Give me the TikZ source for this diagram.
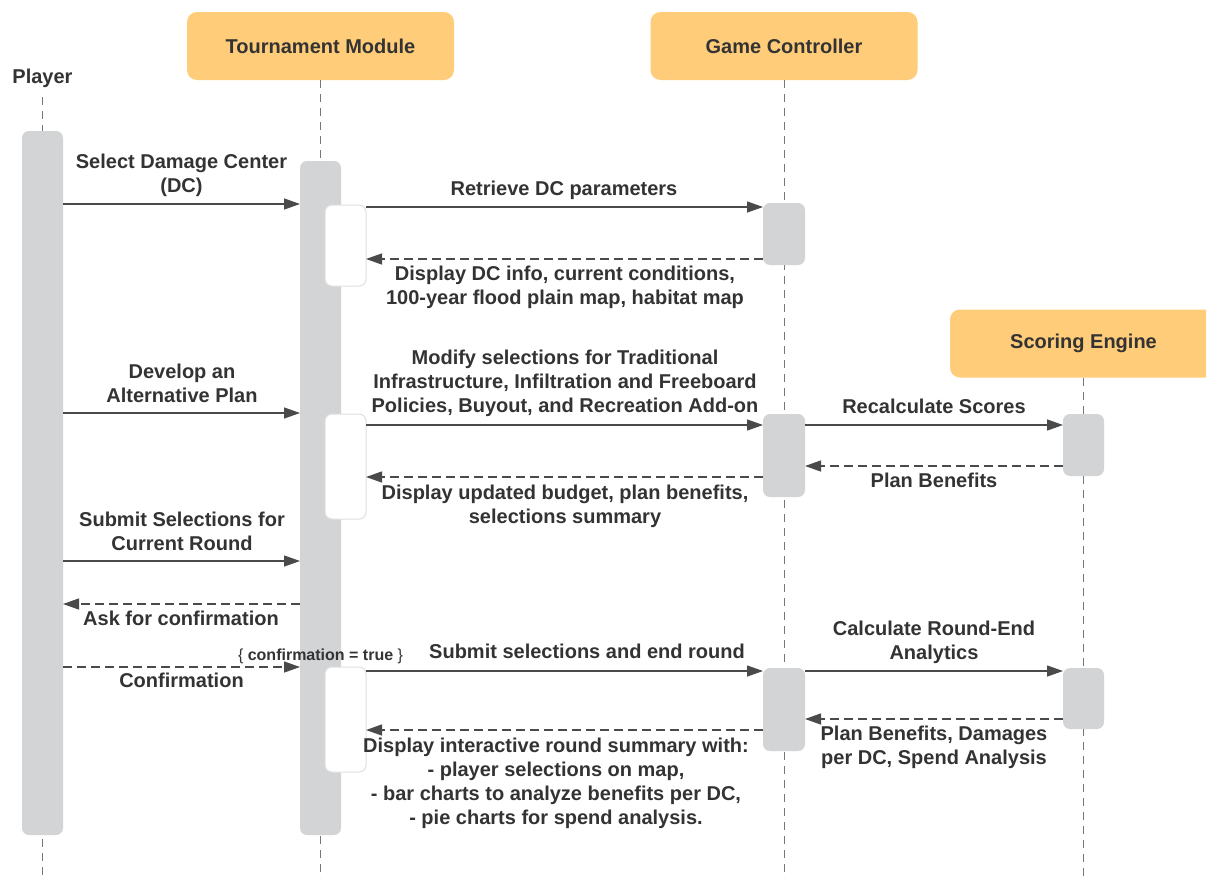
\documentclass[tikz,border=0pt]{standalone}
\usepackage{fontspec}
\setmainfont{Liberation Sans}
\usetikzlibrary{arrows.meta}
\definecolor{hdr}{HTML}{FFCC79}
\definecolor{barc}{HTML}{D3D4D6}
\definecolor{txt}{HTML}{333333}
\definecolor{ln}{HTML}{4A4A4A}
\begin{document}
\begin{tikzpicture}[x=1pt,y=-1pt,
  every node/.style={inner sep=0pt, outer sep=0pt},
  hdrbox/.style={fill=hdr, rounded corners=10pt, minimum width=267pt, minimum height=68pt,
    font=\bfseries\fontsize{20}{24}\selectfont, text=txt},
  actbar/.style={fill=barc, rounded corners=7pt, minimum width=41pt},
  subbox/.style={fill=white, draw=black!12, line width=1pt, rounded corners=7pt, minimum width=41pt},
  life/.style={draw=ln!75, line width=1pt, dash pattern=on 8pt off 6pt},
  msg/.style={draw=ln, line width=1.3pt, -{Triangle[length=16pt,width=11pt]}},
  ret/.style={msg, dash pattern=on 9pt off 5pt},
  lbl/.style={font=\bfseries\fontsize{20}{24}\selectfont, text=txt, align=center, anchor=base},
  guard/.style={font=\fontsize{16}{19}\selectfont, text=txt, anchor=base},
]
\clip (0,0) rectangle (1206,878);
\fill[white] (0,0) rectangle (1206,878);

% headers
\node[lbl] (pl) at (42.5,83) {Player};
\node[hdrbox] (th) at (320.5,46) {Tournament Module};
\node[hdrbox] (gh) at (784,46) {Game Controller};
\node[hdrbox] (sh) at (1083.5,343.5) {Scoring Engine};

% lifelines
\coordinate (ptop) at (42.5,97);
\draw[life] (ptop) -- (ptop |- 0,878);
\draw[life] (th.south) -- (th.south |- 0,878);
\draw[life] (gh.south) -- (gh.south |- 0,878);
\draw[life] (sh.south) -- (sh.south |- 0,878);

% activation bars
\node[actbar, minimum height=704pt] (pbar) at (42.5,483) {};
\node[actbar, minimum height=674pt] (tbar) at (320.5,498) {};
\node[subbox, minimum height=81pt] (w1) at (345.5,245.5) {};
\node[subbox, minimum height=105pt] (w2) at (345.5,466.5) {};
\node[subbox, minimum height=105pt] (w3) at (345.5,719.5) {};
\node[actbar, minimum width=42pt, minimum height=62pt] (g1) at (784,234) {};
\node[actbar, minimum width=42pt, minimum height=83pt] (g2) at (784,455.5) {};
\node[actbar, minimum width=42pt, minimum height=83pt] (g3) at (784,709.5) {};
\node[actbar, minimum height=62pt] (s1) at (1083.5,445) {};
\node[actbar, minimum height=61pt] (s2) at (1083.5,698.5) {};

% messages
\draw[msg] (pbar.east |- 0,204) -- (tbar.west |- 0,204);
\draw[msg] (w1.east |- 0,207) -- (g1.west |- 0,207);
\draw[ret] (g1.west |- 0,259) -- (w1.east |- 0,259);
\draw[msg] (pbar.east |- 0,413) -- (tbar.west |- 0,413);
\draw[msg] (w2.east |- 0,425) -- (g2.west |- 0,425);
\draw[msg] (g2.east |- 0,425) -- (s1.west |- 0,425);
\draw[ret] (s1.west |- 0,466) -- (g2.east |- 0,466);
\draw[ret] (g2.west |- 0,477) -- (w2.east |- 0,477);
\draw[msg] (pbar.east |- 0,561) -- (tbar.west |- 0,561);
\draw[ret] (tbar.west |- 0,604) -- (pbar.east |- 0,604);
\draw[ret] (pbar.east |- 0,667) -- (tbar.west |- 0,667);
\draw[msg] (w3.east |- 0,671) -- (g3.west |- 0,671);
\draw[msg] (g3.east |- 0,671) -- (s2.west |- 0,671);
\draw[ret] (s2.west |- 0,719) -- (g3.east |- 0,719);
\draw[ret] (g3.west |- 0,730) -- (w3.east |- 0,730);

% labels (anchor = baseline of the last line)
\node[lbl] (l1) at (181.5,192) {Select Damage Center\\(DC)};
\node[lbl] (l2) at (564,195) {Retrieve DC parameters};
\node[lbl] (l3) at (565,304) {Display DC info, current conditions,\\100-year flood plain map, habitat map};
\node[lbl] (l4) at (182,402) {Develop an\\Alternative Plan};
\node[lbl] (l5) at (565,412) {Modify selections for Traditional\\Infrastructure, Infiltration and Freeboard\\Policies, Buyout, and Recreation Add-on};
\node[lbl] (l6) at (934,413) {Recalculate Scores};
\node[lbl] (l7) at (934,487) {Plan Benefits};
\node[lbl] (l8) at (565,523) {Display updated budget, plan benefits,\\selections summary};
\node[lbl] (l9) at (182,550) {Submit Selections for\\Current Round};
\node[lbl] (l10) at (181,625) {Ask for confirmation};
\node[lbl] (l11) at (181.5,687) {Confirmation};
\node[guard] (lg) at (320.5,660) {\{ {\bfseries confirmation = true} \}};
\node[lbl] (l12) at (587,658) {Submit selections and end round};
\node[lbl] (l13) at (934,659) {Calculate Round-End\\Analytics};
\node[lbl] (l14) at (934,764) {Plan Benefits, Damages\\per DC, Spend Analysis};
\node[lbl] (l15) at (556,824) {Display interactive round summary with:\\- player selections on map,\\- bar charts to analyze benefits per DC,\\- pie charts for spend analysis.};
\end{tikzpicture}
\end{document}
